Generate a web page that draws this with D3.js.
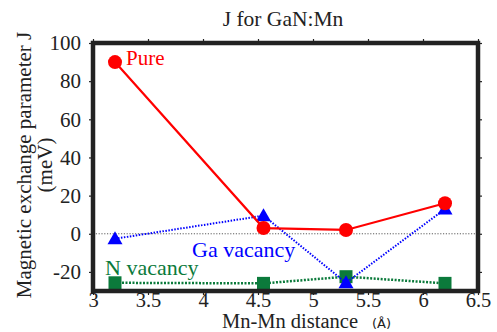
<!DOCTYPE html>
<html><head><meta charset="utf-8">
<script src="https://cdn.jsdelivr.net/npm/d3@7"></script>
<style>body{margin:0;background:#fff}svg{display:block}
svg text{font-family:"Liberation Serif","DejaVu Serif","Times New Roman",Times,serif}
svg text.sans{font-family:"DejaVu Sans","Liberation Sans",sans-serif}</style>
</head><body>
<svg id="c" width="497" height="332"></svg>
<script>
const distances = [3.2, 4.55, 5.3, 6.2];
const pureJ = [90, 3, 2, 16];
const gaVacJ = [-2.6, 9.5, -25.7, 13];
const nVacJ = [-25.7, -26, -22.5, -26];
const xTicks = [3, 3.5, 4, 4.5, 5, 5.5, 6, 6.5];
const yTicks = [-20, 0, 20, 40, 60, 80, 100];

const svg = d3.select("#c");
const L = 93, R = 478, T = 43, B = 291;
const x = d3.scaleLinear().domain([3, 6.5]).range([L, R]);
const y = d3.scaleLinear().domain([-30, 100]).range([B, T]);
const fmt = d => String(d);

// zero line
svg.append("line").attr("x1", L).attr("x2", R).attr("y1", y(0)).attr("y2", y(0))
  .attr("stroke", "#333").attr("stroke-width", 0.8).attr("stroke-dasharray", "1.2,1.6");

// axes (ticks outward)
const axB = svg.append("g").attr("transform", `translate(0,${B})`)
  .call(d3.axisBottom(x).tickValues(xTicks).tickSize(4).tickFormat(fmt));
const axT = svg.append("g").attr("transform", `translate(0,${T})`)
  .call(d3.axisTop(x).tickValues(xTicks).tickSize(4).tickFormat(""));
const axL = svg.append("g").attr("transform", `translate(${L},0)`)
  .call(d3.axisLeft(y).tickValues(yTicks).tickSize(4).tickFormat(fmt));
const axR = svg.append("g").attr("transform", `translate(${R},0)`)
  .call(d3.axisRight(y).tickValues(yTicks).tickSize(4).tickFormat(""));
[axB, axT, axL, axR].forEach(g => {
  g.attr("font-family", null);
  g.select(".domain").remove();
  g.selectAll(".tick line").attr("stroke", "#222").attr("stroke-width", 1.2);
  g.selectAll("text").attr("font-size", 21).attr("fill", "#222");
});
axB.selectAll("text").attr("font-size", 20.5).attr("dy", 0).attr("y", 16);
axL.selectAll("text").attr("x", -12);

// series
const pts = vals => distances.map((d, i) => [x(d), y(vals[i])]);
const line = d3.line();
const green = "#0b7a3b", blue = "#0000ff", red = "#ff0000";

svg.append("path").attr("d", line(pts(nVacJ))).attr("fill", "none")
  .attr("stroke", green).attr("stroke-width", 2.5).attr("stroke-dasharray", "2,1.5");
svg.selectAll(".sq").data(pts(nVacJ)).join("rect")
  .attr("x", d => d[0] - 6.5).attr("y", d => d[1] - 6.5).attr("width", 13).attr("height", 13).attr("fill", green);

svg.append("path").attr("d", line(pts(gaVacJ))).attr("fill", "none")
  .attr("stroke", blue).attr("stroke-width", 2).attr("stroke-dasharray", "1.5,1.5");
svg.selectAll(".tri").data(pts(gaVacJ)).join("path")
  .attr("d", d => `M${d[0]},${d[1] - 7.5}L${d[0] + 7.5},${d[1] + 5.5}L${d[0] - 7.5},${d[1] + 5.5}Z`).attr("fill", blue);

svg.append("path").attr("d", line(pts(pureJ))).attr("fill", "none")
  .attr("stroke", red).attr("stroke-width", 2.2);
svg.selectAll(".ci").data(pts(pureJ)).join("circle")
  .attr("cx", d => d[0]).attr("cy", d => d[1]).attr("r", 7).attr("fill", red);

// frame
svg.append("rect").attr("x", L).attr("y", T).attr("width", R - L).attr("height", B - T)
  .attr("fill", "none").attr("stroke", "#222").attr("stroke-width", 4.5);

// labels
const txt = (s, xx, yy, size, fill, anchor) => svg.append("text").text(s).attr("x", xx).attr("y", yy)
  .attr("font-size", size).attr("fill", fill).attr("text-anchor", anchor || "start");
txt("J for GaN:Mn", 283, 26, 21.5, "#222", "middle");
txt("Pure", 126, 65, 21, red);
txt("Ga vacancy", 192, 257, 22, blue);
txt("N vacancy", 105, 275, 22, green);
txt("Mn-Mn distance", 290, 328, 20.5, "#222", "middle");
svg.append("text").attr("class", "sans").text("(Å)").attr("x", 372).attr("y", 328)
  .attr("font-size", 13).attr("fill", "#222");
svg.append("text").attr("transform", "translate(31,165) rotate(-90)").attr("text-anchor", "middle")
  .attr("font-size", 21).attr("fill", "#222").text("Magnetic exchange parameter J");
svg.append("text").attr("transform", "translate(52,165) rotate(-90)").attr("text-anchor", "middle")
  .attr("font-size", 21).attr("fill", "#222").text("(meV)");
</script>
</body></html>
